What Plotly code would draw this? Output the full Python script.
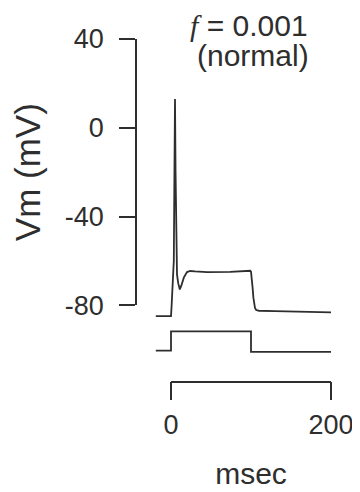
import plotly.graph_objects as go

# ---------------- data ----------------
time_ms = [-19, 0, 0.8, 1.5, 2.5, 3.5, 4.3, 5.0, 5.7, 6.5, 7.5, 9, 11, 13, 16, 20, 24,
           30, 45, 74, 99, 100, 101, 102, 103, 104, 105, 106.5, 110, 130, 160, 200]
vm_mv = [-84.8, -84.8, -80, -75, -73, -60, -20, 13, -20, -55, -66, -70, -72.8, -71, -67.5,
         -65.0, -64.5, -64.7, -65.0, -64.9, -64.4, -64.8, -67.5, -72, -76.5, -79.5, -81.2,
         -82.1, -82.4, -82.6, -82.8, -83.1]

stim_t = [-19, 0, 0, 100, 100, 200]
stim_level = [0, 0, 1, 1, -0.06, -0.06]   # relative stimulus amplitude (a.u.)

vm_ticks = [-80, -40, 0, 40]
vm_tick_labels = ["-80", "-40", "0", "40"]
time_ticks = [0, 200]
time_tick_labels = ["0", "200"]
scale_t = [0, 200]

# ---------------- geometry (page pixels; page body has an 8px margin) ----------------
OFF = 8
W, H = 350, 482
ML, MR, MT, MB = 100, 10, 4, 4
PW = W - ML - MR
PH = H - MT - MB

def fx(page_px):
    return (page_px - OFF - ML) / PW

def fy(page_py):
    return (H - MB - (page_py - OFF)) / PH

X0, KX = 171.0, 0.8          # page px of t=0, px per ms
Y0, KY = 127.8, 2.22         # page px of 0 mV, px per mV
S0, KS = 350.7, 19.4         # page px of stim 0, px per unit

def vpx(v):
    return Y0 - KY * v

v_top_px, v_bot_px = 20, 325
v_range = [(Y0 - v_bot_px) / KY, (Y0 - v_top_px) / KY]
s_top_px, s_bot_px = 328, 362
s_range = [(S0 - s_bot_px) / KS, (S0 - s_top_px) / KS]
plot_left_page = OFF + ML
plot_right_page = OFF + W - MR
x_range = [(plot_left_page - X0) / KX, (plot_right_page - X0) / KX]

INK = "#2e2e2e"
FONT = "Liberation Sans, Arial, sans-serif"

fig = go.Figure()
fig.add_trace(go.Scatter(x=time_ms, y=vm_mv, mode="lines",
                         line=dict(color=INK, width=1.8), xaxis="x", yaxis="y",
                         showlegend=False, hoverinfo="skip"))
fig.add_trace(go.Scatter(x=stim_t, y=stim_level, mode="lines",
                         line=dict(color=INK, width=1.8), xaxis="x", yaxis="y2",
                         showlegend=False, hoverinfo="skip"))
fig.add_trace(go.Scatter(x=scale_t, y=[-80, -80], mode="lines", opacity=0,
                         line=dict(color=INK, width=1), xaxis="x2", yaxis="y3",
                         showlegend=False, hoverinfo="skip"))

fig.update_layout(
    width=W, height=H,
    margin=dict(l=ML, r=MR, t=MT, b=MB, pad=0, autoexpand=False),
    paper_bgcolor="white", plot_bgcolor="rgba(0,0,0,0)",
    font=dict(family=FONT, color=INK),
    xaxis=dict(range=x_range, domain=[0, 1], visible=False, anchor="y", automargin=False),
    yaxis=dict(range=v_range, domain=[fy(v_bot_px), fy(v_top_px)], visible=False,
               anchor="x", automargin=False),
    yaxis2=dict(range=s_range, domain=[fy(s_bot_px), fy(s_top_px)], visible=False,
                anchor="x", automargin=False),
    xaxis2=dict(range=[0, 200], domain=[fx(X0), fx(X0 + 200 * KX)],
                anchor="free", position=fy(381.5), side="bottom", automargin=False,
                showline=True, linecolor=INK, linewidth=1.8,
                ticks="outside", ticklen=18, tickwidth=1.8, tickcolor=INK,
                tickvals=time_ticks, ticktext=time_tick_labels,
                showgrid=False, zeroline=False,
                tickfont=dict(size=27, color=INK), ticklabelstandoff=1,
                title=dict(text="msec", font=dict(size=30, color=INK), standoff=26)),
    yaxis3=dict(range=[-80, 40], domain=[fy(vpx(-80)), fy(vpx(40))],
                anchor="free", position=fx(136), side="left", automargin=False,
                showline=True, linecolor=INK, linewidth=1.8,
                ticks="outside", ticklen=16, tickwidth=1.8, tickcolor=INK,
                tickvals=vm_ticks, ticktext=vm_tick_labels,
                showgrid=False, zeroline=False,
                tickfont=dict(size=27, color=INK), ticklabelstandoff=10,
                title=dict(text="Vm (mV)", font=dict(size=35, color=INK), standoff=14)),
    annotations=[
        dict(text="<span style='font-family:Liberation Serif'><i>f</i></span> = 0.001",
             x=fx(249), y=fy(26), xref="paper", yref="paper",
             xanchor="center", yanchor="middle", showarrow=False,
             font=dict(size=30, color=INK, family=FONT)),
        dict(text="(normal)",
             x=fx(252.5), y=fy(55), xref="paper", yref="paper",
             xanchor="center", yanchor="middle", showarrow=False,
             font=dict(size=30, color=INK, family=FONT)),
    ],
)

fig.write_html("out.html")
